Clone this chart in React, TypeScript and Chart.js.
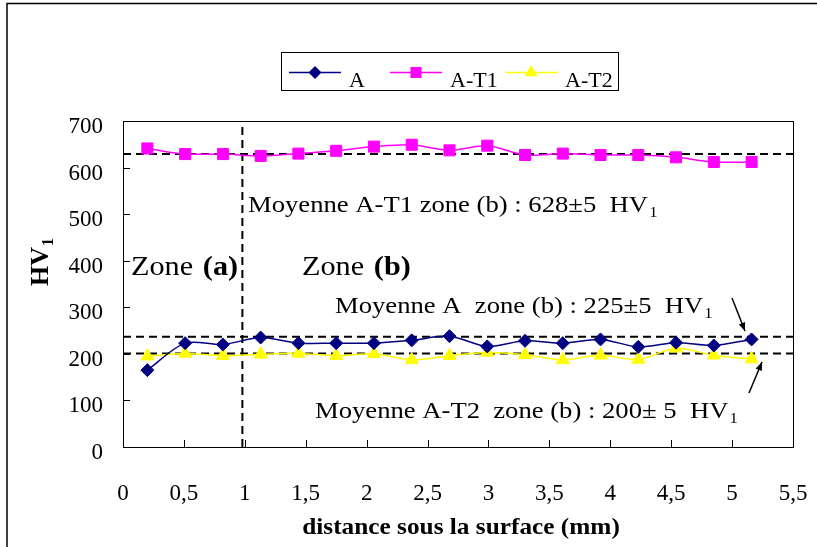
import { useEffect, useRef } from 'react';
import { Chart, registerables } from 'chart.js';

Chart.register(...registerables);

// ---- data ----
const distances = [0.2, 0.51, 0.82, 1.13, 1.44, 1.75, 2.06, 2.37, 2.68, 2.99, 3.3, 3.61, 3.92, 4.23, 4.54, 4.85, 5.16];
const hvA = [165, 223, 220, 235, 223, 223, 223, 229, 238, 216, 228, 223, 231, 215, 224, 218, 231];
const hvAT1 = [641, 629, 629, 625, 630, 636, 645, 649, 637, 647, 627, 630, 627, 627, 622, 612, 612];
const hvAT2 = [195, 201, 196, 199, 201, 196, 200, 187, 196, 203, 198, 187, 197, 188, 212, 197, 189];
const seriesNames = ['A', 'A-T1', 'A-T2'];
const meanValues = [237, 629, 201];
const zoneBoundary = [0.98];
const xTickLabels = ['0', '0,5', '1', '1,5', '2', '2,5', '3', '3,5', '4', '4,5', '5', '5,5'];
const yTickValues = [0, 100, 200, 300, 400, 500, 600, 700];

const SERIF = "'Liberation Serif', 'Times New Roman', serif";
const colors = ['#000080', '#FF00FF', '#FFFF00'];
const markers = ['rectRot', 'rect', 'triangle'];
const STRETCH = 1.11;

function drawMarker(ctx: CanvasRenderingContext2D, style: string, x: number, y: number, r: number, color: string) {
  ctx.save();
  ctx.fillStyle = color;
  ctx.beginPath();
  if (style === 'rectRot') {
    ctx.moveTo(x - r, y); ctx.lineTo(x, y - r); ctx.lineTo(x + r, y); ctx.lineTo(x, y + r);
  } else if (style === 'rect') {
    const s = r * Math.SQRT1_2;
    ctx.rect(x - s, y - s, 2 * s, 2 * s);
  } else {
    ctx.moveTo(x, y - r); ctx.lineTo(x + r * 0.866, y + r / 2); ctx.lineTo(x - r * 0.866, y + r / 2);
  }
  ctx.closePath();
  ctx.fill();
  ctx.restore();
}

function textWithSub(ctx: CanvasRenderingContext2D, main: string, sub: string, x: number, y: number, size: number) {
  ctx.save();
  ctx.translate(x, y);
  ctx.scale(STRETCH, 1);
  ctx.font = `${size}px ${SERIF}`;
  ctx.fillText(main, 0, 0);
  const w = ctx.measureText(main).width;
  ctx.font = `${Math.round(size * 0.62)}px ${SERIF}`;
  ctx.fillText(sub, w + 1, size * 0.22);
  ctx.restore();
}

function zoneLabel(ctx: CanvasRenderingContext2D, bold: string, x: number, y: number) {
  ctx.save();
  ctx.translate(x, y);
  ctx.scale(1.08, 1);
  ctx.font = `28px ${SERIF}`;
  ctx.fillText('Zone ', 0, 0);
  const w = ctx.measureText('Zone ').width;
  ctx.font = `bold 28px ${SERIF}`;
  ctx.fillText(bold, w + 2, 0);
  ctx.restore();
}

function arrow(ctx: CanvasRenderingContext2D, x1: number, y1: number, x2: number, y2: number) {
  ctx.save();
  ctx.strokeStyle = '#000';
  ctx.fillStyle = '#000';
  ctx.lineWidth = 1.5;
  ctx.beginPath(); ctx.moveTo(x1, y1); ctx.lineTo(x2, y2); ctx.stroke();
  const a = Math.atan2(y2 - y1, x2 - x1);
  const L = 9, W = 0.38;
  ctx.beginPath();
  ctx.moveTo(x2, y2);
  ctx.lineTo(x2 - L * Math.cos(a - W), y2 - L * Math.sin(a - W));
  ctx.lineTo(x2 - L * Math.cos(a + W), y2 - L * Math.sin(a + W));
  ctx.closePath(); ctx.fill();
  ctx.restore();
}

const overlay = {
  id: 'overlay',
  beforeDatasetsDraw(chart: any) {
    const { ctx, chartArea: ca, scales } = chart;
    ctx.save();
    ctx.strokeStyle = '#000';
    ctx.lineWidth = 1;
    ctx.strokeRect(Math.round(ca.left) + 0.5, Math.round(ca.top) + 0.5, Math.round(ca.right - ca.left), Math.round(ca.bottom - ca.top));
    ctx.beginPath();
    for (const v of yTickValues) {
      const y = Math.round(scales.y.getPixelForValue(v)) + 0.5;
      ctx.moveTo(ca.left, y); ctx.lineTo(ca.left + 7, y);
    }
    for (let i = 0; i < xTickLabels.length; i++) {
      const x = Math.round(scales.x.getPixelForValue(i * 0.5)) + 0.5;
      ctx.moveTo(x, ca.bottom); ctx.lineTo(x, ca.bottom - 7);
    }
    ctx.stroke();
    ctx.restore();
  },
  afterDraw(chart: any) {
    const { ctx, width, height } = chart;
    ctx.save();
    ctx.strokeStyle = '#000';
    ctx.lineWidth = 1.5;
    ctx.beginPath();
    ctx.moveTo(7, height); ctx.lineTo(7, 3.5); ctx.lineTo(width, 3.5);
    ctx.stroke();

    // legend
    ctx.lineWidth = 1;
    ctx.strokeRect(281.5, 52.5, 337, 38);
    const lx = [289, 390, 505];
    const tx = [349, 450, 565];
    ctx.textBaseline = 'alphabetic';
    for (let i = 0; i < 3; i++) {
      ctx.strokeStyle = colors[i];
      ctx.lineWidth = 1.5;
      ctx.beginPath(); ctx.moveTo(lx[i], 72.5); ctx.lineTo(lx[i] + 52, 72.5); ctx.stroke();
      drawMarker(ctx, markers[i], lx[i] + 26, 72.5, i === 2 ? 7.5 : i === 1 ? 7.8 : 6.5, colors[i]);
      ctx.fillStyle = '#000';
      ctx.font = `22px ${SERIF}`;
      ctx.fillText(seriesNames[i], tx[i], 87);
    }

    ctx.fillStyle = '#000';
    // x title
    ctx.save();
    ctx.translate(461, 534);
    ctx.scale(1.1, 1);
    ctx.font = `bold 23px ${SERIF}`;
    ctx.textAlign = 'center';
    ctx.fillText('distance sous la surface (mm)', 0, 0);
    ctx.restore();
    // y title
    ctx.save();
    ctx.translate(48, 261);
    ctx.rotate(-Math.PI / 2);
    ctx.textAlign = 'left';
    ctx.font = `bold 26px ${SERIF}`;
    const hw = ctx.measureText('HV').width;
    const tw = hw + 11;
    ctx.fillText('HV', -tw / 2, 0);
    ctx.font = `bold 16px ${SERIF}`;
    ctx.fillText('1', -tw / 2 + hw + 1, 5);
    ctx.restore();

    // annotations
    ctx.textAlign = 'left';
    textWithSub(ctx, 'Moyenne A-T1 zone (b) : 628±5  HV', '1', 248, 212, 24);
    textWithSub(ctx, 'Moyenne A  zone (b) : 225±5  HV', '1', 335, 313, 24);
    textWithSub(ctx, 'Moyenne A-T2  zone (b) : 200± 5  HV', '1', 315, 418, 24);

    zoneLabel(ctx, '(a)', 131, 275);
    zoneLabel(ctx, '(b)', 302, 275);

    arrow(ctx, 732, 298, 745, 331);
    arrow(ctx, 749, 393, 762, 362);
    ctx.restore();
  },
};

export default function App() {
  const ref = useRef<HTMLCanvasElement | null>(null);
  useEffect(() => {
    document.body.style.margin = '0';
    const canvas = ref.current!;
    const tickFont = { family: SERIF, size: 23 };
    const mk = (i: number, values: number[]) => ({
      label: seriesNames[i],
      data: distances.map((x, k) => ({ x, y: values[k] })),
      borderColor: colors[i],
      backgroundColor: colors[i],
      pointBackgroundColor: colors[i],
      pointBorderColor: colors[i],
      pointStyle: markers[i],
      pointRadius: i === 2 ? 7.5 : i === 1 ? 7.8 : 6.5,
      pointBorderWidth: 1,
      borderWidth: 1.5,
      tension: 0.3,
    });
    const dashed = (data: { x: number; y: number }[]) => ({
      label: '',
      data,
      borderColor: '#000',
      borderWidth: 2,
      borderDash: [8, 5],
      pointRadius: 0,
      tension: 0,
    });
    const chart = new Chart(canvas, {
      type: 'line',
      data: {
        datasets: [
          mk(0, hvA),
          mk(1, hvAT1),
          mk(2, hvAT2),
          ...meanValues.map((m) => dashed([{ x: 0, y: m }, { x: 5.5, y: m }])),
          dashed([{ x: zoneBoundary[0], y: 0 }, { x: zoneBoundary[0], y: 700 }]),
        ] as any,
      },
      options: {
        animation: false,
        responsive: false,
        maintainAspectRatio: false,
        layout: { padding: { left: 0, right: 24, top: 121, bottom: 0 } },
        plugins: { legend: { display: false }, tooltip: { enabled: false } },
        scales: {
          x: {
            type: 'linear',
            min: 0,
            max: 5.5,
            ticks: {
              stepSize: 0.5,
              autoSkip: false,
              maxRotation: 0,
              padding: 2,
              color: '#000',
              font: tickFont,
              callback: (v: any) => xTickLabels[Math.round(Number(v) / 0.5)] ?? '',
            },
            grid: { display: false, drawTicks: true, tickLength: 31 },
            border: { display: false },
            afterFit: (s: any) => { s.height = 100; },
          },
          y: {
            min: 0,
            max: 700,
            ticks: { stepSize: 100, padding: 2, labelOffset: 6, color: '#000', font: tickFont },
            grid: { display: false, drawTicks: true, tickLength: 18 },
            border: { display: false },
            afterFit: (s: any) => { s.width = 123; },
          },
        },
      } as any,
      plugins: [overlay],
    });
    return () => chart.destroy();
  }, []);
  return <canvas ref={ref} width={817} height={547} style={{ display: 'block' }} />;
}
